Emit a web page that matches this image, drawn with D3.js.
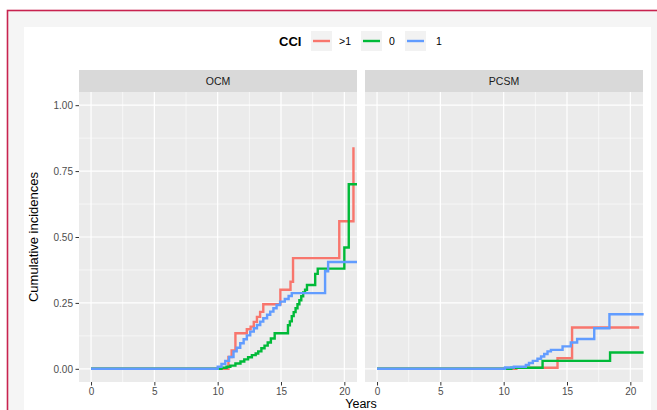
<!DOCTYPE html>
<html>
<head>
<meta charset="utf-8">
<script src="https://cdn.jsdelivr.net/npm/d3@7"></script>
<style>
  html, body { margin: 0; padding: 0; background: #ffffff; }
  svg { display: block; font-family: "Liberation Sans", Arial, Helvetica, sans-serif; }
</style>
</head>
<body>
<svg id="chart" width="657" height="410"></svg>
<script>
// ---------------- DATA ----------------
const panels = ["OCM", "PCSM"];
const groups = [">1", "0", "1"];
const groupColors = ["#F8766D", "#00BA38", "#619CFF"];
const xTicks = [0, 5, 10, 15, 20];
const yTicks = [0, 0.25, 0.5, 0.75, 1.0];
const yTickLabels = ["0.00", "0.25", "0.50", "0.75", "1.00"];
const legendTitle = "CCI";
const xTitle = "Years";
const yTitle = "Cumulative incidences";

// OCM, CCI >1
const ocmGt1Time  = [0, 10.85, 11.1, 11.4, 12.3, 12.6, 12.85, 13.1, 13.35, 13.6, 14.95, 15.75, 15.95, 19.6, 20.72];
const ocmGt1Value = [0, 0.045, 0.07, 0.135, 0.15, 0.16, 0.178, 0.197, 0.216, 0.245, 0.30, 0.33, 0.42, 0.56, 0.84];
// OCM, CCI 0
const ocm0Time  = [0, 10.3, 10.7, 11.0, 11.4, 11.8, 12.1, 12.4, 12.7, 13.0, 13.2, 13.45, 13.7, 13.95, 14.2, 14.5, 15.55, 15.7, 15.85, 16.0, 16.15, 16.3, 16.45, 16.6, 16.75, 16.9, 17.05, 17.7, 17.9, 20.0, 20.35, 21.0];
const ocm0Value = [0, 0.004, 0.008, 0.012, 0.02, 0.028, 0.036, 0.044, 0.052, 0.058, 0.066, 0.078, 0.088, 0.10, 0.115, 0.135, 0.165, 0.18, 0.20, 0.215, 0.23, 0.245, 0.26, 0.275, 0.29, 0.30, 0.318, 0.36, 0.38, 0.46, 0.70, 0.70];
// OCM, CCI 1
const ocm1Time  = [0, 10.0, 10.3, 10.6, 10.9, 11.25, 11.5, 11.78, 12.05, 12.3, 12.57, 12.85, 13.1, 13.36, 13.6, 13.9, 14.15, 14.4, 14.65, 14.93, 15.3, 15.6, 15.85, 18.48, 18.72, 21.0];
const ocm1Value = [0, 0.008, 0.018, 0.03, 0.045, 0.066, 0.08, 0.097, 0.112, 0.127, 0.141, 0.154, 0.166, 0.179, 0.192, 0.205, 0.217, 0.23, 0.242, 0.255, 0.265, 0.276, 0.287, 0.37, 0.405, 0.405];
// PCSM, CCI >1
const pcsmGt1Time  = [0, 11.0, 14.25, 15.4, 20.7];
const pcsmGt1Value = [0, 0.004, 0.04, 0.157, 0.157];
// PCSM, CCI 0
const pcsm0Time  = [0, 10.6, 13.07, 18.4, 21.05];
const pcsm0Value = [0, 0.004, 0.03, 0.062, 0.062];
// PCSM, CCI 1
const pcsm1Time  = [0, 10.1, 10.8, 11.75, 12.0, 12.3, 12.67, 12.95, 13.2, 13.46, 13.73, 14.65, 15.3, 15.8, 17.15, 18.35, 21.05];
const pcsm1Value = [0, 0.005, 0.008, 0.015, 0.022, 0.03, 0.038, 0.047, 0.056, 0.066, 0.072, 0.085, 0.10, 0.113, 0.154, 0.207, 0.207];

const series = {
  "OCM":  [[ocmGt1Time, ocmGt1Value], [ocm0Time, ocm0Value], [ocm1Time, ocm1Value]],
  "PCSM": [[pcsmGt1Time, pcsmGt1Value], [pcsm0Time, pcsm0Value], [pcsm1Time, pcsm1Value]]
};

// ---------------- LAYOUT ----------------
const svg = d3.select("#chart");
const W = 657, H = 410;

// frame
svg.append("rect").attr("x", 0).attr("y", 0).attr("width", W).attr("height", H).attr("fill", "#ffffff");
svg.append("rect").attr("x", 7.5).attr("y", 10.5).attr("width", 670).attr("height", 420)
  .attr("fill", "#f5f5f5").attr("stroke", "#c8234f").attr("stroke-width", 1.6);
svg.append("rect").attr("x", 24).attr("y", 27).attr("width", 627).attr("height", 400).attr("fill", "#ffffff");

const panelTop = 92, panelBottom = 382, panelW = 278;
const panelLefts = [79, 365];
const stripTop = 70, stripH = 22;

const y = d3.scaleLinear().domain([-0.05, 1.05]).range([panelBottom, panelTop]);

const textCol = "#4d4d4d";

panels.forEach((p, pi) => {
  const left = panelLefts[pi];
  const x = d3.scaleLinear().domain([-0.95, 21.0]).range([left, left + panelW]);
  const g = svg.append("g");

  g.append("rect").attr("x", left).attr("y", panelTop).attr("width", panelW)
    .attr("height", panelBottom - panelTop).attr("fill", "#ebebeb");

  const xMinor = xTicks.slice(0, -1).map((d, i) => (d + xTicks[i + 1]) / 2);
  const yMinor = yTicks.slice(0, -1).map((d, i) => (d + yTicks[i + 1]) / 2);
  g.selectAll(".xminor").data(xMinor).enter().append("line")
    .attr("x1", d => x(d)).attr("x2", d => x(d)).attr("y1", panelTop).attr("y2", panelBottom)
    .attr("stroke", "#ffffff").attr("stroke-width", 0.6);
  g.selectAll(".yminor").data(yMinor).enter().append("line")
    .attr("x1", left).attr("x2", left + panelW).attr("y1", d => y(d)).attr("y2", d => y(d))
    .attr("stroke", "#ffffff").attr("stroke-width", 0.6);
  g.selectAll(".xmajor").data(xTicks).enter().append("line")
    .attr("x1", d => x(d)).attr("x2", d => x(d)).attr("y1", panelTop).attr("y2", panelBottom)
    .attr("stroke", "#ffffff").attr("stroke-width", 1.2);
  g.selectAll(".ymajor").data(yTicks).enter().append("line")
    .attr("x1", left).attr("x2", left + panelW).attr("y1", d => y(d)).attr("y2", d => y(d))
    .attr("stroke", "#ffffff").attr("stroke-width", 1.2);

  g.append("rect").attr("x", left).attr("y", stripTop).attr("width", panelW).attr("height", stripH).attr("fill", "#d9d9d9");
  g.append("text").attr("x", left + panelW / 2).attr("y", stripTop + 15)
    .attr("text-anchor", "middle").attr("font-size", 10.5).attr("fill", "#1a1a1a").text(p);

  const line = d3.line().x(d => x(d[0])).y(d => y(d[1])).curve(d3.curveStepAfter);
  series[p].forEach((s, gi) => {
    const pts = s[0].map((t, i) => [t, s[1][i]]);
    g.append("path").datum(pts).attr("d", line).attr("fill", "none")
      .attr("stroke", groupColors[gi]).attr("stroke-width", 2.4)
      .attr("stroke-linejoin", "miter").attr("stroke-linecap", "butt");
  });

  const xAxis = d3.axisBottom(x).tickValues(xTicks).tickSize(3.5).tickPadding(2.5);
  const ax = svg.append("g").attr("transform", `translate(0,${panelBottom})`).call(xAxis);
  ax.select(".domain").remove();
  ax.selectAll(".tick line").attr("stroke", "#333333").attr("stroke-width", 1);
  ax.selectAll(".tick text").attr("font-size", 10).attr("fill", textCol)
    .attr("font-family", "Liberation Sans, Arial, sans-serif");

  if (pi === 0) {
    const yAxis = d3.axisLeft(y).tickValues(yTicks).tickFormat((d, i) => yTickLabels[i]).tickSize(3.5).tickPadding(2.5);
    const ay = svg.append("g").attr("transform", `translate(${left},0)`).call(yAxis);
    ay.select(".domain").remove();
    ay.selectAll(".tick line").attr("stroke", "#333333").attr("stroke-width", 1);
    ay.selectAll(".tick text").attr("font-size", 10).attr("fill", textCol)
      .attr("font-family", "Liberation Sans, Arial, sans-serif");
  }
});

// axis titles
svg.append("text").attr("transform", `translate(38,${(panelTop + panelBottom) / 2}) rotate(-90)`)
  .attr("text-anchor", "middle").attr("font-size", 13).attr("fill", "#000").text(yTitle);
svg.append("text").attr("x", (panelLefts[0] + panelLefts[1] + panelW) / 2).attr("y", 408)
  .attr("text-anchor", "middle").attr("font-size", 12.5).attr("fill", "#000").text(xTitle);

// legend
const lg = svg.append("g");
lg.append("text").attr("x", 279).attr("y", 46).attr("font-size", 13).attr("font-weight", "bold")
  .attr("fill", "#000").text(legendTitle);
const keyX = [311, 361, 405];
const labX = [339, 389, 436];
groups.forEach((gname, i) => {
  lg.append("rect").attr("x", keyX[i]).attr("y", 31).attr("width", 21).attr("height", 20).attr("fill", "#f2f2f2");
  lg.append("line").attr("x1", keyX[i] + 2).attr("x2", keyX[i] + 19).attr("y1", 41).attr("y2", 41)
    .attr("stroke", groupColors[i]).attr("stroke-width", 2.4);
  lg.append("text").attr("x", labX[i]).attr("y", 45).attr("font-size", 10.5).attr("fill", "#000").text(gname);
});
</script>
</body>
</html>
